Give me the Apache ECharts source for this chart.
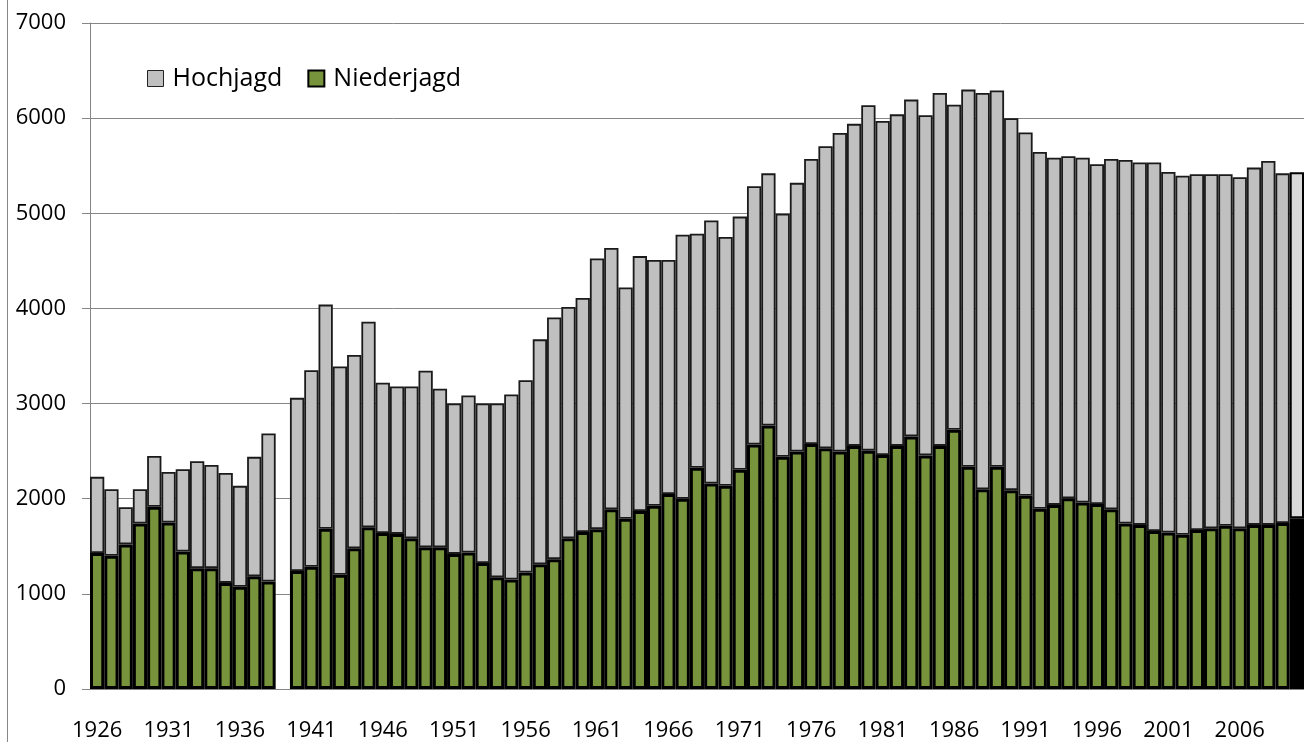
<!DOCTYPE html>
<html>
<head>
<meta charset="utf-8">
<script src="https://cdn.jsdelivr.net/npm/echarts@6/dist/echarts.min.js"></script>
<style>
  html, body { margin: 0; padding: 0; background: #fff; }
  #chart { width: 1304px; height: 742px; }
</style>
</head>
<body>
<div id="chart"></div>
<script>
var years = [];
for (var y = 1926; y <= 2010; y++) years.push(String(y));

// Niederjagd (unterer, grüner Teil); 1939 fehlt
var niederjagd = [
  1430, 1400, 1520, 1740, 1915, 1750, 1445, 1270, 1270, 1115,
  1075, 1185, 1130, null, 1240, 1285, 1685, 1200, 1480, 1700,
  1640, 1630, 1585, 1490, 1490, 1420, 1435, 1325, 1175, 1150,
  1225, 1310, 1365, 1585, 1650, 1680, 1890, 1790, 1870, 1925,
  2050, 2000, 2325, 2160, 2135, 2305, 2570, 2770, 2440, 2495,
  2575, 2530, 2495, 2555, 2505, 2460, 2555, 2655, 2455, 2555,
  2725, 2335, 2100, 2335, 2090, 2030, 1895, 1935, 2005, 1960,
  1945, 1890, 1740, 1725, 1660, 1645, 1620, 1670, 1690, 1715,
  1690, 1725, 1725, 1745, 1795
];

// Hochjagd (oberer, grauer Teil)
var hochjagd = [
  800, 700, 390, 360, 535, 530, 865, 1125, 1085, 1155,
  1060, 1255, 1555, null, 1820, 2065, 2355, 2190, 2030, 2160,
  1580, 1550, 1595, 1855, 1665, 1580, 1650, 1675, 1825, 1945,
  2020, 2365, 2540, 2430, 2460, 2845, 2745, 2430, 2680, 2585,
  2460, 2775, 2460, 2765, 2615, 2660, 2715, 2650, 2555, 2825,
  2995, 3175, 3350, 3385, 3630, 3510, 3485, 3540, 3575, 3710,
  3415, 3965, 4165, 3955, 3910, 3820, 3750, 3650, 3595, 3625,
  3570, 3680, 3820, 3810, 3875, 3790, 3775, 3740, 3720, 3695,
  3690, 3755, 3825, 3675, 3635
];

var green = '#77933C', grey = '#C0C0C0', axisGrey = '#868686';
var font = 'Open Sans';

// letztes Jahr anders eingefärbt
function mark(arr, last) {
  return arr.map(function (v, i) {
    if (i === arr.length - 1) return { value: v, itemStyle: last };
    return v;
  });
}

var myChart = echarts.init(document.getElementById('chart'));
var option = {
  animation: false,
  textStyle: { fontFamily: font },
  graphic: [{
    type: 'line',
    shape: { x1: 7.5, y1: 0, x2: 7.5, y2: 742 },
    style: { stroke: axisGrey, lineWidth: 1 }
  }],
  legend: {
    left: 147,
    top: 66,
    padding: 0,
    itemWidth: 16,
    itemHeight: 16,
    itemGap: 25,
    textStyle: { fontSize: 25, color: '#000', fontFamily: font, padding: [0, 0, 0, 4] },
    data: [
      { name: 'Hochjagd', icon: 'rect', itemStyle: { color: grey, borderColor: '#222', borderWidth: 1 } },
      { name: 'Niederjagd', icon: 'rect', itemStyle: { color: green, borderColor: '#000', borderWidth: 2 } }
    ]
  },
  grid: { left: 90, top: 23, width: 1217, height: 666 },
  xAxis: {
    type: 'category',
    data: years,
    axisLine: { lineStyle: { color: axisGrey, width: 1 } },
    axisTick: { interval: 0, length: 5, lineStyle: { color: axisGrey } },
    axisLabel: { interval: 4, color: '#000', fontSize: 22, margin: 31, fontFamily: font }
  },
  yAxis: {
    type: 'value',
    min: 0,
    max: 7000,
    interval: 1000,
    axisLine: { show: true, lineStyle: { color: axisGrey } },
    axisTick: { show: true, length: 8, lineStyle: { color: axisGrey } },
    axisLabel: {
      color: '#000', fontSize: 22, margin: 24, fontFamily: font,
      formatter: function (v) { return String(v); }
    },
    splitLine: { lineStyle: { color: axisGrey, width: 1 } }
  },
  series: [
    {
      name: 'Niederjagd',
      type: 'bar',
      stack: 'jagd',
      barCategoryGap: '0%',
      itemStyle: { color: green, borderColor: '#000', borderWidth: 3 },
      data: mark(niederjagd, { color: '#000', borderColor: '#000', borderWidth: 2 })
    },
    {
      name: 'Hochjagd',
      type: 'bar',
      stack: 'jagd',
      barCategoryGap: '0%',
      itemStyle: { color: grey, borderColor: '#1a1a1a', borderWidth: 1.8 },
      data: mark(hochjagd, { color: '#D9D9D9', borderColor: '#000', borderWidth: 2 })
    }
  ]
};
myChart.setOption(option);

window.addEventListener('resize', function () {
  myChart.resize();
});
</script>
</body>
</html>
